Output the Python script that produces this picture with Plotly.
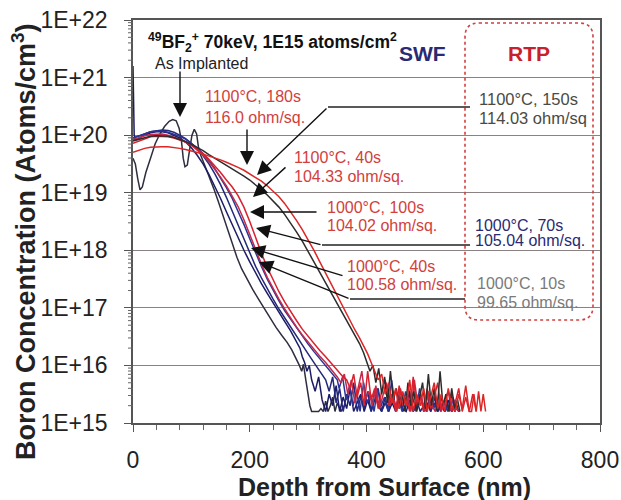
import plotly.graph_objects as go
import math

# ---------------- data (depth in nm, log10 of boron concentration) ----------------
ai_x = [0,4,8,12,16,22,30,38,46,54,62,68,74,79,83,86,89,93,97,101,105,109,112,116,122,130,138,146,154,162,
        170,178,186,195,205,215,225,235,245,255,264,272,280,285,289,292,296,300,303,306,
        312,318,322,326,330,334,338,342,346,350,356,362]
ai_log = [19.6,19.5,19.25,19.05,19.1,19.35,19.6,19.85,20.02,20.15,20.24,20.27,20.25,20.12,19.9,19.6,19.45,19.48,19.75,20.0,
          20.1,20.02,19.8,19.65,19.5,19.3,19.08,18.85,18.6,18.35,18.1,17.88,17.68,17.5,17.32,17.15,16.98,16.82,16.66,16.52,
          16.4,16.27,16.12,16.0,15.9,16.02,15.75,15.5,15.3,15.2,
          15.2,15.2,15.25,15.2,15.38,15.2,15.3,15.45,15.2,15.35,15.2,15.3]

n1_x = [0,1,2,4,8,14,20,30,40,50,60,70,80,90,100,110,120,130,140,150,160,170,180,190,200,210,220,230,240,250,260,270,280,
        286,290,294,298,302,306,
        312,318,324,330,336,342,348,354,360,366,372,378,384,390,396,402,408,414,420,426,432,438,444,450,456,462,468,474,480,
        486,492,498,504,510,516,522,528,534,540,546,552,558]
n1_log = [21.2,20.6,20.0,19.92,19.93,19.97,20.0,20.04,20.06,20.06,20.04,20.0,19.95,19.88,19.78,19.65,19.5,19.32,19.12,18.9,
          18.67,18.44,18.22,18.0,17.8,17.6,17.42,17.25,17.08,16.92,16.76,16.6,16.42,16.3,16.15,16.05,15.9,16.0,15.75,
          15.55,15.8,15.4,15.2,15.5,15.3,15.65,15.2,15.45,15.25,15.6,15.2,15.35,15.5,15.2,15.4,15.2,15.55,15.3,15.2,
          15.45,15.2,15.35,15.2,15.5,15.25,15.2,15.4,15.2,15.3,15.5,15.2,15.35,15.2,15.45,15.2,15.3,15.2,15.4,15.2,15.3,15.2]

n2_x = [0,10,20,30,40,50,60,70,80,90,100,110,120,130,140,150,160,170,180,190,200,210,220,230,240,250,260,270,280,290,
        300,310,320,330,
        336,342,348,354,360,366,372,378,384,390,396,402,408,414,420,426,432,438,444,450,456,462,468,474,480,486,492,498,
        504,510,516,522,528,534,540,546,552,558]
n2_log = [19.95,19.98,20.02,20.06,20.08,20.09,20.08,20.05,20.0,19.94,19.86,19.76,19.64,19.5,19.33,19.14,18.92,18.68,18.43,18.18,
          17.94,17.72,17.52,17.33,17.15,16.98,16.82,16.66,16.5,16.35,16.2,16.05,15.9,15.75,
          15.55,15.8,15.35,15.6,15.2,15.5,15.3,15.7,15.2,15.45,15.25,15.55,15.2,15.4,15.6,15.2,15.35,15.2,15.5,15.25,
          15.45,15.2,15.3,15.55,15.2,15.4,15.2,15.3,15.5,15.2,15.35,15.2,15.45,15.2,15.3,15.2,15.4,15.2]

m3_x = [0,10,20,30,40,50,60,70,80,90,100,110,120,130,140,150,160,170,180,190,200,210,220,230,240,250,260,270,280,290,
        300,310,320,330,340,350,
        353,359,365,371,377,383,389,395,401,407,413,419,425,431,437,443,449,455,461,467,473,479,485,491,497,503,509,515,
        521,527,533,539,545,551,557]
m3_log = [19.95,19.99,20.03,20.06,20.07,20.07,20.05,20.02,19.98,19.93,19.86,19.78,19.68,19.56,19.42,19.26,19.09,18.9,18.68,18.45,
          18.2,17.95,17.72,17.5,17.3,17.12,16.95,16.8,16.65,16.5,16.37,16.24,16.12,16.0,15.88,15.75,
          15.6,15.8,15.4,15.65,15.3,15.55,15.2,15.7,15.35,15.5,15.2,15.6,15.3,15.45,15.2,15.75,15.3,15.4,15.2,15.55,
          15.25,15.45,15.2,15.6,15.3,15.2,15.5,15.25,15.4,15.2,15.35,15.2,15.5,15.2,15.3]

m2_x = [0,10,20,30,40,50,60,70,80,90,100,110,120,130,140,150,160,170,180,190,200,210,220,230,240,250,260,270,280,290,
        300,310,320,330,340,350,
        356,362,368,374,380,386,392,398,404,410,416,422,428,434,440,446,452,458,464,470,476,482,488,494,500,506,512,518,
        524,530,536,542,548,554,560]
m2_log = [19.92,19.96,19.99,20.01,20.02,20.02,20.0,19.97,19.93,19.88,19.82,19.74,19.65,19.54,19.41,19.27,19.12,18.95,18.76,18.53,
          18.27,18.0,17.76,17.53,17.33,17.15,16.98,16.82,16.67,16.53,16.4,16.28,16.16,16.05,15.93,15.8,
          15.7,15.85,15.5,15.75,15.35,15.6,15.9,15.4,15.55,15.3,15.65,15.25,15.5,15.7,15.3,15.45,15.2,15.6,15.35,15.5,
          15.2,15.75,15.3,15.45,15.2,15.55,15.3,15.2,15.5,15.25,15.4,15.2,15.45,15.25,15.2]

m1_x = [0,10,20,30,40,50,60,70,80,90,100,110,120,130,140,150,160,170,180,190,200,210,220,230,240,250,260,270,280,290,
        300,310,320,330,340,350,360,
        366,372,378,384,390,396,402,408,414,420,426,432,438,444,450,456,462,468,474,480,486,492,498,504,510,516,522,528,
        534,540,546,552,558,564,570,576,582,588]
m1_log = [19.86,19.9,19.94,19.97,19.98,19.98,19.97,19.95,19.92,19.88,19.83,19.76,19.68,19.58,19.47,19.35,19.22,19.1,18.95,18.75,
          18.5,18.22,17.95,17.7,17.48,17.28,17.1,16.93,16.78,16.63,16.5,16.38,16.26,16.15,16.03,15.92,15.8,
          15.75,15.6,15.85,15.45,15.7,15.3,15.9,15.4,15.6,15.25,15.55,15.75,15.3,15.5,15.2,15.65,15.3,15.45,15.2,15.8,
          15.3,15.5,15.2,15.6,15.25,15.45,15.7,15.2,15.4,15.55,15.2,15.35,15.6,15.2,15.45,15.2,15.5,15.2]

f2_x = [0,10,20,30,40,50,60,70,80,90,100,110,120,130,140,150,160,170,180,190,200,210,220,230,240,250,260,270,280,290,
        300,310,320,330,340,350,360,370,380,
        388,395,401,406,411,416,421,426,431,436,441,446,451,456,461,466,471,476,481,486,491,496,501,506,511,516,521,526,
        531,536,541,546,551,556,560]
f2_log = [19.9,19.93,19.96,19.98,19.99,19.99,19.98,19.96,19.93,19.89,19.84,19.79,19.73,19.66,19.6,19.54,19.48,19.42,19.36,19.29,
          19.22,19.14,19.05,18.96,18.86,18.75,18.62,18.48,18.32,18.16,17.98,17.8,17.62,17.43,17.25,17.06,16.88,16.7,16.53,
          16.38,16.22,16.05,15.9,16.0,15.7,15.95,15.5,15.8,15.35,15.9,15.4,15.6,15.25,15.5,15.2,15.7,15.3,15.55,15.2,
          15.45,15.7,15.25,15.85,15.3,15.6,15.2,15.9,15.3,15.5,15.2,15.6,15.25,15.4,15.2]

f1_x = [0,10,20,30,40,50,60,70,80,90,100,110,120,130,140,150,160,170,180,190,200,210,220,230,240,250,260,270,280,290,
        300,310,320,330,340,350,360,370,380,
        388,395,402,408,414,420,
        426,432,438,444,450,456,462,468,474,480,486,492,498,504,510,516,522,528,534,540,546,552,558,564,570,576,
        580,584,588,592,596,600,604]
f1_log = [19.7,19.74,19.77,19.79,19.8,19.8,19.8,19.79,19.77,19.75,19.73,19.7,19.67,19.64,19.61,19.57,19.53,19.49,19.44,19.39,
          19.33,19.27,19.2,19.12,19.03,18.93,18.81,18.67,18.52,18.36,18.19,18.0,17.8,17.6,17.4,17.2,17.0,16.82,16.62,
          16.48,16.35,16.2,16.05,15.9,15.75,
          15.85,15.5,15.7,15.35,15.6,15.25,15.55,15.3,15.75,15.2,15.5,15.3,15.6,15.2,15.45,15.7,15.25,15.5,15.2,15.6,
          15.3,15.2,15.5,15.25,15.65,15.2,
          15.2,15.5,15.2,15.55,15.2,15.5,15.2]

x_ticks = [0, 200, 400, 600, 800]
y_tick_vals = [1e15, 1e16, 1e17, 1e18, 1e19, 1e20, 1e21, 1e22]
y_tick_text = ["1E+15", "1E+16", "1E+17", "1E+18", "1E+19", "1E+20", "1E+21", "1E+22"]

series = [
    ("As Implanted", ai_x, ai_log, "#2e2e40"),
    ("RTP 1000C 10s", n1_x, n1_log, "#1c1c66"),
    ("SWF 1000C 40s", n2_x, n2_log, "#24287a"),
    ("RTP 1000C 70s", m3_x, m3_log, "#2a3596"),
    ("SWF 1000C 100s", m2_x, m2_log, "#c42a4a"),
    ("SWF 1100C 40s", m1_x, m1_log, "#d8202e"),
    ("RTP 1100C 150s", f2_x, f2_log, "#2c2c2c"),
    ("SWF 1100C 180s", f1_x, f1_log, "#dc2626"),
]

for name, xs, ys, _ in series:
    if len(xs) != len(ys):
        raise ValueError(f"{name}: {len(xs)} x vs {len(ys)} y")

# ---------------- figure ----------------
W, H = 621, 500
L, R, T, B = 133, 600, 20, 423  # plot area in pixels
FONT = "Liberation Sans, Arial, Helvetica, sans-serif"


def P(xp, yp):
    return (xp - L) / (R - L), (B - yp) / (B - T)


fig = go.Figure()
for name, xs, ys, col in series:
    fig.add_trace(go.Scatter(x=xs, y=[10 ** v for v in ys], mode="lines", name=name,
                             line=dict(color=col, width=1.5), showlegend=False))

fig.update_layout(
    width=W, height=H,
    margin=dict(l=L, r=W - R, t=T, b=H - B, autoexpand=False),
    paper_bgcolor="white", plot_bgcolor="white",
    font=dict(family=FONT, color="#222"),
)
fig.update_xaxes(range=[0, 800], tickvals=x_ticks, ticks="outside", ticklen=7, tickcolor="#555",
                 showgrid=False, zeroline=False, showline=True, linecolor="#555", linewidth=1.5, mirror=True,
                 tickfont=dict(size=23, family=FONT, color="#222"), ticklabelstandoff=9, automargin=False,
                 minor=dict(dtick=40, ticks="outside", ticklen=5, tickcolor="#666"))
fig.update_yaxes(type="log", range=[15, 22], tickvals=y_tick_vals, ticktext=y_tick_text,
                 ticks="outside", ticklen=7, tickcolor="#555",
                 showgrid=True, gridcolor="#8a8282", gridwidth=1, zeroline=False,
                 showline=True, linecolor="#555", linewidth=1.5, mirror=True, automargin=False,
                 tickfont=dict(size=23, family=FONT, color="#222"), ticklabelstandoff=12)

shapes = []
# minor log ticks on the y axis
for n in range(15, 22):
    for k in range(2, 10):
        yp = (n + math.log10(k) - 15) / 7
        shapes.append(dict(type="line", xref="paper", yref="paper", x0=-5 / (R - L), x1=0, y0=yp, y1=yp,
                           line=dict(color="#666", width=1)))

# RTP dotted rounded box
bx0, by0, bx1, by1, rad = 465, 23, 593, 320, 14
X0, Y0 = P(bx0, by0)
X1, Y1 = P(bx1, by1)
rx, ry = rad / (R - L), rad / (B - T)
path = (f"M {X0+rx},{Y0} L {X1-rx},{Y0} Q {X1},{Y0} {X1},{Y0-ry} L {X1},{Y1+ry} Q {X1},{Y1} {X1-rx},{Y1} "
        f"L {X0+rx},{Y1} Q {X0},{Y1} {X0},{Y1+ry} L {X0},{Y0-ry} Q {X0},{Y0} {X0+rx},{Y0} Z")
shapes.append(dict(type="path", xref="paper", yref="paper", path=path,
                   line=dict(color="#d04040", width=1.6, dash="dot")))

# leader line extensions
for (a, b) in [((328, 107), (470, 107)), ((322, 245), (470, 245)), ((350, 299), (465, 299))]:
    xa, ya = P(*a)
    xb, yb = P(*b)
    shapes.append(dict(type="line", xref="paper", yref="paper", x0=xa, y0=ya, x1=xb, y1=yb,
                       line=dict(color="#222", width=1.3)))
fig.update_layout(shapes=shapes)

ann = []


def text(s, xp, yp, col, size=16, anchor="left"):
    x, y = P(xp, yp)
    ann.append(dict(text=s, x=x, y=y, xref="paper", yref="paper", xanchor=anchor, yanchor="middle",
                    showarrow=False, font=dict(size=size, color=col, family=FONT)))


def arrow(tip, tail):
    x, y = P(*tip)
    ann.append(dict(text="", x=x, y=y, xref="paper", yref="paper", showarrow=True,
                    ax=tail[0] - tip[0], ay=tail[1] - tip[1], axref="pixel", ayref="pixel",
                    arrowhead=2, arrowsize=2.0, arrowwidth=1.4, arrowcolor="#111", standoff=0))


RED = "#d2403c"
NAVY = "#2a2a72"
text("<b><sup>49</sup>BF<sub>2</sub><sup>+</sup> 70keV, 1E15 atoms/cm<sup>2</sup></b>", 146, 43, "#111", 17.5)
text("<b>SWF</b>", 397, 53, NAVY, 21)
text("<b>RTP</b>", 529, 53, "#c8202c", 21, "center")
text("As Implanted", 153, 63, "#222", 16)
text("1100°C, 180s", 203, 96, RED)
text("116.0 ohm/sq.", 203, 117, RED)
text("1100°C, 150s", 477, 99, "#4a4a42", 16.5)
text("114.03 ohm/sq", 477, 118, "#4a4a42", 16.5)
text("1100°C, 40s", 292, 157, RED)
text("104.33 ohm/sq.", 292, 176, RED)
text("1000°C, 100s", 325, 207, RED)
text("104.02 ohm/sq.", 325, 225, RED)
text("1000°C, 70s", 473, 226, NAVY)
text("105.04 ohm/sq.", 473, 240, NAVY)
text("1000°C, 40s", 345, 266, RED)
text("100.58 ohm/sq.", 345, 284, RED)
text("1000°C, 10s", 475, 283, "#7a7a7a")
text("99.65 ohm/sq.", 475, 302, "#7a7a7a")

arrow((180, 117), (180, 70))
arrow((247, 165), (247, 128))
arrow((257, 175), (328, 107))
arrow((253, 197), (287, 166))
arrow((250, 212), (318, 212))
arrow((256, 228), (322, 245))
arrow((251, 248), (344, 276))
arrow((259, 262), (350, 299))

# axis titles
text("<b>Depth from Surface (nm)</b>", 384, 487, "#222", 25, "center")
xt, yt = P(24, 242)
ann.append(dict(text="<b>Boron Concentration (Atoms/cm<sup>3</sup>)</b>", x=xt, y=yt, xref="paper", yref="paper",
                xanchor="center", yanchor="middle", textangle=-90, showarrow=False,
                font=dict(size=27, color="#222", family=FONT)))

fig.update_layout(annotations=ann)
fig.write_html("out.html", post_script="document.body.style.margin='0px';",
               config={"displayModeBar": False})
